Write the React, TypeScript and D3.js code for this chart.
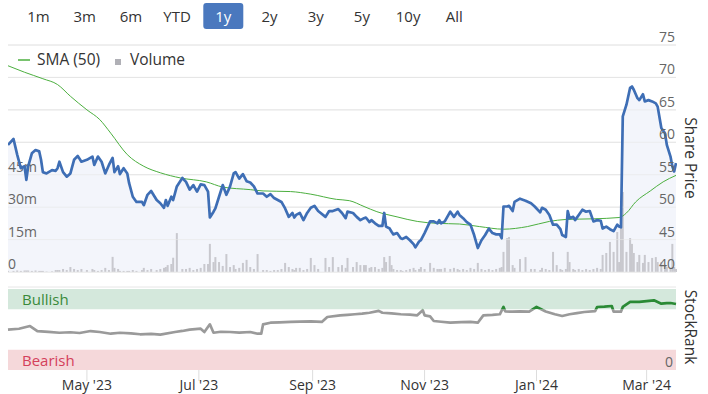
import React from "react";
import * as d3 from "d3";

const rangeButtons = ["1m", "3m", "6m", "YTD", "1y", "2y", "3y", "5y", "10y", "All"];
const selectedRange = "1y";

const priceDates = [
  "2023-03-19","2023-03-22","2023-03-24","2023-03-26","2023-03-28","2023-03-29","2023-03-30","2023-04-01","2023-04-03","2023-04-05",
  "2023-04-06","2023-04-07","2023-04-09","2023-04-12","2023-04-14","2023-04-15","2023-04-16","2023-04-18","2023-04-20","2023-04-22",
  "2023-04-24","2023-04-26","2023-04-28","2023-05-01","2023-05-04","2023-05-05","2023-05-07","2023-05-09","2023-05-11","2023-05-13",
  "2023-05-15","2023-05-16","2023-05-18","2023-05-19","2023-05-21","2023-05-23","2023-05-24","2023-05-26","2023-05-28","2023-05-31",
  "2023-06-01","2023-06-03","2023-06-05","2023-06-08","2023-06-10","2023-06-12","2023-06-13","2023-06-14","2023-06-16","2023-06-17",
  "2023-06-19","2023-06-22","2023-06-24","2023-06-26","2023-06-28","2023-06-30","2023-07-02","2023-07-04","2023-07-06","2023-07-07",
  "2023-07-09","2023-07-10","2023-07-12","2023-07-14","2023-07-16","2023-07-18","2023-07-20","2023-07-21","2023-07-23","2023-07-25",
  "2023-07-27","2023-07-29","2023-07-31","2023-08-02","2023-08-05","2023-08-07","2023-08-09","2023-08-11","2023-08-13","2023-08-15",
  "2023-08-17","2023-08-19","2023-08-21","2023-08-22","2023-08-23","2023-08-25","2023-08-27","2023-08-29","2023-08-31","2023-09-02",
  "2023-09-04","2023-09-08","2023-09-10","2023-09-12","2023-09-15","2023-09-17","2023-09-19","2023-09-20","2023-09-23","2023-09-25",
  "2023-09-27","2023-09-29","2023-09-30","2023-10-02","2023-10-03","2023-10-05","2023-10-07","2023-10-09","2023-10-10","2023-10-11",
  "2023-10-13","2023-10-14","2023-10-15","2023-10-17","2023-10-19","2023-10-20","2023-10-22","2023-10-24","2023-10-26","2023-10-27",
  "2023-10-29","2023-10-30","2023-11-01","2023-11-04","2023-11-06","2023-11-08","2023-11-09","2023-11-10","2023-11-12","2023-11-15",
  "2023-11-17","2023-11-19","2023-11-20","2023-11-22","2023-11-24","2023-11-26","2023-11-28","2023-11-30","2023-12-02","2023-12-04",
  "2023-12-06","2023-12-08","2023-12-10","2023-12-12","2023-12-13","2023-12-14","2023-12-16","2023-12-17","2023-12-19","2023-12-20",
  "2023-12-23","2023-12-26","2023-12-29","2023-12-31","2024-01-03","2024-01-04","2024-01-06","2024-01-08","2024-01-10","2024-01-12",
  "2024-01-14","2024-01-15","2024-01-17","2024-01-18","2024-01-19","2024-01-21","2024-01-22","2024-01-24","2024-01-26","2024-01-28",
  "2024-01-30","2024-02-01","2024-02-03","2024-02-05","2024-02-06","2024-02-08","2024-02-10","2024-02-12","2024-02-14","2024-02-15",
  "2024-02-16","2024-02-17","2024-02-19","2024-02-21","2024-02-22","2024-02-23","2024-02-25","2024-02-26","2024-02-28","2024-02-29",
  "2024-03-02","2024-03-04","2024-03-06","2024-03-07","2024-03-09","2024-03-11","2024-03-12","2024-03-14","2024-03-15","2024-03-16",
  "2024-03-17"
];

const priceValues = [
  59.6,60.5,58.1,56.0,56.3,54.2,56.3,58.3,58.8,58.6,
  57.3,55.4,55.2,55.7,55.6,56.0,57.0,55.4,54.7,55.2,
  57.3,57.9,57.0,57.3,57.8,56.5,57.8,57.0,55.2,56.5,
  57.6,55.4,56.3,55.1,56.0,55.2,53.7,51.6,50.8,50.8,
  50.3,51.9,52.5,51.1,50.6,49.9,51.1,50.2,51.6,51.1,
  53.2,54.5,53.9,52.7,53.4,52.4,53.5,53.4,52.4,48.4,
  49.3,49.8,51.6,53.4,51.9,53.2,55.2,55.4,54.4,55.1,
  54.0,53.8,53.2,52.1,52.1,51.6,52.0,51.4,51.1,50.8,
  49.8,48.5,49.1,48.4,48.8,49.1,48.0,49.1,49.9,50.2,
  49.4,48.5,49.4,49.4,49.7,49.1,48.3,49.3,49.1,48.5,
  48.0,48.3,48.4,47.7,48.0,47.5,47.1,47.1,49.1,47.0,
  46.7,46.2,45.8,46.0,45.2,45.1,45.4,44.9,44.3,43.8,
  44.7,44.9,46.0,47.8,47.8,47.5,48.0,47.5,47.8,49.3,
  48.5,49.3,48.8,48.3,47.7,47.3,45.7,43.7,44.9,45.7,
  46.7,46.0,45.8,45.8,45.2,50.1,50.1,50.2,49.4,50.8,
  51.3,51.0,50.6,50.1,49.2,49.9,49.6,48.8,47.3,47.3,
  46.6,45.7,45.4,49.4,48.3,48.5,48.0,48.8,49.6,49.3,
  49.4,47.8,48.0,47.9,46.7,47.0,46.6,46.3,47.3,47.0,
  46.9,64.0,65.8,68.4,68.6,68.1,66.8,66.5,67.4,66.3,
  66.5,66.3,66.0,65.5,62.2,61.4,59.6,57.8,56.3,55.5,
  56.8
];

// volume in millions
const volumeValues = [
  0.5,0.5,0.7,0.5,0.7,0.7,0.7,0.5,0.7,0.5,
  0.5,0.5,0.2,0.3,0.9,0.9,0.9,1.4,0.9,2.3,
  1.4,0.9,1.4,0.9,1.4,0.9,0.5,0.9,1.9,0.9,
  7.0,1.9,1.4,0.5,0.5,0.5,0.5,0.9,0.5,0.9,
  1.9,0.9,1.4,0.9,1.4,1.9,2.3,3.2,3.7,6.6,
  18.0,1.4,1.4,1.9,0.9,1.4,1.9,3.7,3.7,13.0,
  4.6,6.9,4.6,2.8,8.3,2.3,3.2,1.4,1.9,4.2,
  5.6,2.3,1.4,8.3,0.9,0.9,0.5,0.9,0.9,1.4,
  4.2,2.3,1.4,0.9,1.9,1.9,0.9,1.4,6.5,3.2,
  1.4,6.5,2.3,6.9,2.3,3.2,1.9,6.5,2.3,4.6,
  3.2,3.2,3.2,1.9,2.3,2.3,1.4,1.9,6.9,4.6,
  7.4,3.2,1.4,0.9,0.9,0.5,0.9,1.4,1.9,0.9,
  1.4,2.3,1.4,4.2,1.9,1.4,1.4,1.4,1.9,1.4,
  1.9,1.4,0.9,1.4,0.9,1.9,1.4,4.2,1.4,0.9,
  1.4,0.9,1.4,1.9,2.3,9.3,15.7,16.2,3.2,1.9,
  6.0,6.9,1.4,1.4,0.9,1.9,1.4,0.9,9.3,3.2,
  1.4,0.9,1.4,9.3,4.6,1.4,0.9,1.4,0.9,1.4,
  0.9,1.4,1.9,1.4,7.9,8.8,13.9,9.3,18.5,4.6,
  21.8,37.0,9.3,15.7,13.0,8.8,4.6,7.9,4.2,7.9,
  4.6,6.5,6.9,4.6,4.6,3.2,2.3,1.4,13.0,2.3,
  1.4
];

const smaDates = [
  "2023-03-19","2023-03-28","2023-04-07","2023-04-15","2023-04-22","2023-05-01","2023-05-08","2023-05-14","2023-05-23","2023-06-01",
  "2023-06-10","2023-06-21","2023-07-05","2023-07-14","2023-07-29","2023-08-05","2023-08-20","2023-08-31","2023-09-14","2023-09-21",
  "2023-09-29","2023-10-06","2023-10-17","2023-10-28","2023-11-08","2023-11-20","2023-12-01","2023-12-14","2023-12-27","2024-01-08",
  "2024-01-17","2024-02-01","2024-02-15","2024-02-19","2024-02-24","2024-03-03","2024-03-10","2024-03-17"
];
const smaValues = [
  71.8,70.8,69.8,68.9,67.1,65.0,63.5,61.4,58.1,56.3,
  55.3,54.5,53.9,53.1,52.7,52.5,52.4,52.0,51.2,51.0,
  50.1,49.3,48.5,47.8,47.5,47.4,47.0,46.6,47.0,47.8,
  48.1,48.2,48.4,49.1,50.8,52.5,53.9,54.9
];

const rankDates = [
  "2023-03-19","2023-03-25","2023-03-31","2023-04-04","2023-04-10","2023-04-16","2023-04-22","2023-04-27","2023-05-03","2023-05-08",
  "2023-05-14","2023-05-19","2023-05-25","2023-05-30","2023-06-05","2023-06-10","2023-06-18","2023-06-22","2023-06-26","2023-07-02",
  "2023-07-04","2023-07-07","2023-07-09","2023-07-13","2023-07-18","2023-07-23","2023-07-29","2023-08-02","2023-08-04","2023-08-05",
  "2023-08-09","2023-08-14","2023-08-20","2023-08-25","2023-08-31","2023-09-06","2023-09-09","2023-09-16","2023-09-20","2023-09-24",
  "2023-09-28","2023-10-02","2023-10-07","2023-10-09","2023-10-14","2023-10-19","2023-10-24","2023-10-28","2023-10-31","2023-11-01",
  "2023-11-04","2023-11-06","2023-11-10","2023-11-15","2023-11-21","2023-11-26","2023-11-30","2023-12-03","2023-12-08","2023-12-12",
  "2023-12-14","2023-12-15","2023-12-19","2023-12-23","2023-12-28","2024-01-01","2024-01-06","2024-01-11","2024-01-15","2024-01-19",
  "2024-01-23","2024-01-27","2024-02-02","2024-02-03","2024-02-07","2024-02-11","2024-02-12","2024-02-16","2024-02-17","2024-02-21",
  "2024-02-26","2024-03-01","2024-03-05","2024-03-09","2024-03-12","2024-03-14","2024-03-17"
];
const rankValues = [
  49.8,50.9,54.3,48.1,47.0,46.0,46.6,45.7,48.1,46.9,
  44.8,46.0,45.1,44.1,44.6,43.6,46.9,48.2,49.8,51.0,
  46.9,56.4,46.0,47.2,46.9,46.2,46.9,44.8,44.8,56.4,
  58.4,58.9,59.3,59.8,60.1,59.3,65.4,67.5,68.1,68.8,
  69.6,70.7,73.0,70.7,69.9,68.8,68.3,67.5,73.7,67.5,
  66.3,60.5,59.6,58.4,59.0,59.3,58.4,67.5,68.1,68.8,
  77.8,72.3,72.0,72.3,72.1,77.8,72.3,68.8,66.7,68.8,
  70.2,71.6,72.8,77.8,78.2,79.0,72.0,72.0,77.8,84.0,
  84.0,85.0,86.0,81.9,82.5,82.7,81.5
];

const priceTicks = [40, 45, 50, 55, 60, 65, 70, 75];
const volumeTicks = [0, 15, 30, 45];
const volumeTickLabels = ["0", "15m", "30m", "45m"];
const monthTickDates = ["2023-05-01", "2023-07-01", "2023-09-01", "2023-11-01", "2024-01-01", "2024-03-01"];
const monthTickLabels = ["May '23", "Jul '23", "Sep '23", "Nov '23", "Jan '24", "Mar '24"];
const bullishThreshold = 75;
const bearishThreshold = 25;

const FONT = "'Open Sans', 'Noto Sans', sans-serif";

export default function App() {
  const parse = d3.timeParse("%Y-%m-%d");
  const L = 8, R = 676;
  const x = d3.scaleTime()
    .domain([parse("2023-03-19") as Date, parse("2024-03-17") as Date])
    .range([L, R]);
  const yPrice = d3.scaleLinear().domain([40, 75]).range([272, 45]);
  const yVol = d3.scaleLinear().domain([0, 105]).range([272, 45]);
  const yRank = d3.scaleLinear().domain([0, 100]).range([370, 289]);

  const n = Math.min(priceDates.length, priceValues.length);
  const price = d3.range(n).map((i) => ({ d: parse(priceDates[i]) as Date, v: priceValues[i], vol: volumeValues[i] ?? 0 }));
  const sma = smaDates.map((s, i) => ({ d: parse(s) as Date, v: smaValues[i] }));
  const rank = rankDates.map((s, i) => ({ d: parse(s) as Date, v: rankValues[i] }));

  const priceLine = d3.line<any>().x((p) => x(p.d)).y((p) => yPrice(p.v));
  const priceArea = d3.area<any>().x((p) => x(p.d)).y0(272).y1((p) => yPrice(p.v));
  const smaLine = d3.line<any>().x((p) => x(p.d)).y((p) => yPrice(p.v)).curve(d3.curveMonotoneX);
  const rankLine = d3.line<any>().x((p) => x(p.d)).y((p) => yRank(p.v));

  const thrY = yRank(bullishThreshold);
  const btnX = (i: number) => 38.5 + i * 46.2;

  return (
    <svg width={708} height={394} style={{ position: "absolute", left: 0, top: 0, display: "block" }} fontFamily={FONT}>
      <defs>
        <clipPath id="pclip"><rect x={L} y={40} width={R - L + 1} height={233} /></clipPath>
        <clipPath id="rankHi"><rect x={0} y={0} width={708} height={thrY} /></clipPath>
        <clipPath id="rankLo"><rect x={0} y={thrY} width={708} height={394 - thrY} /></clipPath>
      </defs>
      <rect width={708} height={394} fill="#ffffff" />

      {/* range selector */}
      {rangeButtons.map((b, i) => {
        const sel = b === selectedRange;
        return (
          <g key={b}>
            {sel && <rect x={btnX(i) - 20} y={3} width={40} height={26} rx={3} fill="#4a78be" />}
            <text x={btnX(i)} y={22} textAnchor="middle" fontSize={15} fill={sel ? "#ffffff" : "#333333"}>{b}</text>
          </g>
        );
      })}

      {/* price gridlines */}
      {priceTicks.map((t) => (
        <line key={t} x1={L} x2={R} y1={yPrice(t)} y2={yPrice(t)} stroke="#e6e6e6" strokeWidth={1} />
      ))}

      {/* area fill */}
      <path d={priceArea(price) || ""} fill="#f3f5fb" clipPath="url(#pclip)" />

      {/* volume bars */}
      <g clipPath="url(#pclip)">
        {price.map((p, i) => (
          <rect key={i} x={x(p.d) - 1} y={yVol(p.vol)} width={2} height={272 - yVol(p.vol)} fill="#c8c8ce" />
        ))}
      </g>

      {/* gridlines again (light) over fill */}
      {priceTicks.map((t) => (
        <line key={"g" + t} x1={L} x2={R} y1={yPrice(t)} y2={yPrice(t)} stroke="#e6e6e6" strokeOpacity={0.6} strokeWidth={1} />
      ))}

      {/* volume labels */}
      {volumeTicks.map((t, i) => (
        <text key={t} x={L} y={yVol(t) - 3} fontSize={14} fill="#666666">{volumeTickLabels[i]}</text>
      ))}

      {/* SMA */}
      <path d={smaLine(sma) || ""} fill="none" stroke="#4caf3f" strokeWidth={1} clipPath="url(#pclip)" />
      {/* Price */}
      <path d={priceLine(price) || ""} fill="none" stroke="#3e6eb5" strokeWidth={2.7} strokeLinejoin="round" clipPath="url(#pclip)" />

      {/* price labels */}
      {priceTicks.map((t) => (
        <text key={"p" + t} x={675} y={yPrice(t) - 3} textAnchor="end" fontSize={14} fill="#666666">{t}</text>
      ))}
      <text transform={`translate(685,158) rotate(90)`} textAnchor="middle" fontSize={15.5} fill="#333333">Share Price</text>

      {/* legend */}
      <line x1={18} x2={30} y1={60} y2={60} stroke="#4caf3f" strokeWidth={1.5} />
      <text x={37} y={65} fontSize={15.5} fill="#333333">SMA (50)</text>
      <rect x={115} y={59} width={6} height={6} fill="#b0b0b6" />
      <text x={130} y={65} fontSize={15.5} fill="#333333">Volume</text>

      {/* StockRank panel */}
      <line x1={L} x2={R} y1={287} y2={287} stroke="#e6e6e6" />
      <rect x={L} y={yRank(100)} width={R - L} height={yRank(bullishThreshold) - yRank(100)} fill="#d4e8dc" />
      <rect x={L} y={yRank(bearishThreshold)} width={R - L} height={yRank(0) - yRank(bearishThreshold)} fill="#f5d8da" />
      <text x={22} y={305} fontSize={15} fill="#3a8a3a">Bullish</text>
      <text x={22} y={366} fontSize={15} fill="#d4405a">Bearish</text>
      <text x={673} y={367} textAnchor="end" fontSize={14} fill="#666666">0</text>
      <path d={rankLine(rank) || ""} fill="none" stroke="#9a9a9a" strokeWidth={2.7} strokeLinejoin="round" clipPath="url(#rankLo)" />
      <path d={rankLine(rank) || ""} fill="none" stroke="#2a8a35" strokeWidth={2.7} strokeLinejoin="round" clipPath="url(#rankHi)" />
      <text transform={`translate(685,327) rotate(90)`} textAnchor="middle" fontSize={15.5} fill="#333333">StockRank</text>

      {/* x axis */}
      {monthTickDates.map((s, i) => {
        const xx = x(parse(s) as Date);
        return (
          <g key={s}>
            <line x1={xx} x2={xx} y1={370} y2={381} stroke="#dddddd" />
            <text x={xx} y={390} textAnchor="middle" fontSize={14} fill="#333333">{monthTickLabels[i]}</text>
          </g>
        );
      })}
    </svg>
  );
}
